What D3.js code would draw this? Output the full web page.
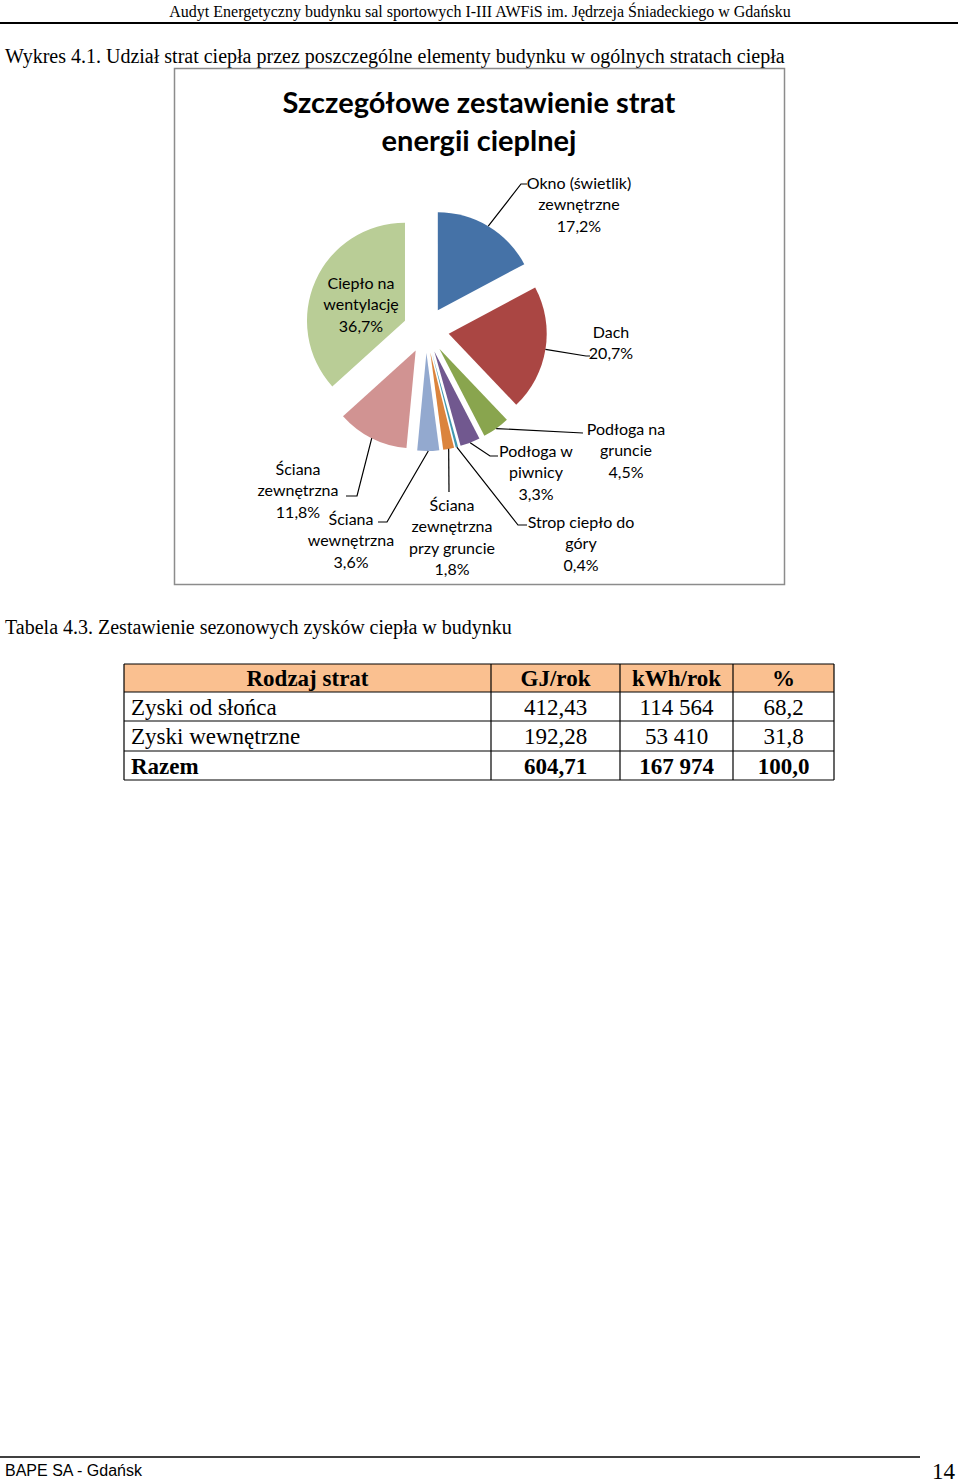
<!DOCTYPE html>
<html><head><meta charset="utf-8">
<script src="https://cdn.jsdelivr.net/npm/d3@7"></script>
<style>
body{margin:0;background:#fff;}
svg{display:block;}
</style></head>
<body>
<script>
// ---- data ----
const categories = ["Okno (świetlik) zewnętrzne","Dach","Podłoga na gruncie","Podłoga w piwnicy","Strop ciepło do góry","Ściana zewnętrzna przy gruncie","Ściana wewnętrzna","Ściana zewnętrzna","Ciepło na wentylację"];
const values = [17.2, 20.7, 4.5, 3.3, 0.4, 1.8, 3.6, 11.8, 36.7];
const labelLines = [
  ["Okno (świetlik)","zewnętrzne","17,2%"],
  ["Dach","20,7%"],
  ["Podłoga na","gruncie","4,5%"],
  ["Podłoga w","piwnicy","3,3%"],
  ["Strop ciepło do","góry","0,4%"],
  ["Ściana","zewnętrzna","przy gruncie","1,8%"],
  ["Ściana","wewnętrzna","3,6%"],
  ["Ściana","zewnętrzna","11,8%"],
  ["Ciepło na","wentylację","36,7%"]
];
const colors = ["#4572A7","#AA4643","#89A54E","#71588F","#4198AF","#DB843D","#93A9CF","#D19392","#B9CD96"];

const chartTitle = ["Szczegółowe zestawienie strat","energii cieplnej"];
const tableHeader = ["Rodzaj strat","GJ/rok","kWh/rok","%"];
const tableRowNames = ["Zyski od słońca","Zyski wewnętrzne","Razem"];
const tableGJ = ["412,43","192,28","604,71"];
const tableKWh = ["114 564","53 410","167 974"];
const tablePct = ["68,2","31,8","100,0"];

// ---- layout ----
const W = 960, H = 1483;
const svg = d3.select("body").append("svg").attr("width", W).attr("height", H);
svg.append("rect").attr("width", W).attr("height", H).attr("fill", "#fff");

const serif = "'Liberation Serif','Times New Roman',serif";
const sans = "Lato,'Open Sans',sans-serif";

// page header
svg.append("text").attr("x", 480).attr("y", 17).attr("text-anchor", "middle")
  .attr("font-family", serif).attr("font-size", 16)
  .text("Audyt Energetyczny budynku sal sportowych I-III AWFiS im. Jędrzeja Śniadeckiego w Gdańsku");
svg.append("line").attr("x1", 0).attr("x2", 958).attr("y1", 23).attr("y2", 23)
  .attr("stroke", "#000").attr("stroke-width", 2);

svg.append("text").attr("x", 5).attr("y", 63)
  .attr("font-family", serif).attr("font-size", 20)
  .text("Wykres 4.1. Udział strat ciepła przez poszczególne elementy budynku w ogólnych stratach ciepła");

// chart box
svg.append("rect").attr("x", 174.5).attr("y", 68.5).attr("width", 610).attr("height", 516)
  .attr("fill", "#fff").attr("stroke", "#8c8c8c").attr("stroke-width", 1.5);

const titleG = svg.append("g");
chartTitle.forEach((t, i) => {
  titleG.append("text").attr("x", 479).attr("y", 113 + i * 38).attr("text-anchor", "middle")
    .attr("font-family", sans).attr("font-weight", "bold").attr("font-size", 29)
    .attr("fill", "#000").text(t);
});

// pie
const cx = 426, cy = 330, R = 98, explode = 23;
const pie = d3.pie().sort(null).value(d => d)(values);
const arc = d3.arc().innerRadius(0).outerRadius(R);
const g = svg.append("g").attr("transform", `translate(${cx},${cy})`);
const dirOf = d => { const a = (d.startAngle + d.endAngle) / 2; return [Math.sin(a), -Math.cos(a)]; };
g.selectAll("path.slice").data(pie).join("path").attr("class", "slice")
  .attr("d", arc)
  .attr("transform", d => { const [dx, dy] = dirOf(d); return `translate(${dx * explode},${dy * explode})`; })
  .attr("fill", (d, i) => colors[i]);

// label layout: text center x, first baseline y, leader elbow & end (page coords)
const labelLayout = [
  {x: 579, y: 189, pts: [[521, 184], [527, 184]]},
  {x: 611, y: 338, pts: [[586, 356], [590, 356]]},
  {x: 626, y: 435, pts: [[583, 433]]},
  {x: 536, y: 457, pts: [[490, 456], [498, 456]]},
  {x: 581, y: 528, pts: [[518, 525], [527, 525]]},
  {x: 452, y: 511, pts: [[449, 492]]},
  {x: 351, y: 525, pts: [[387, 522], [378, 522]]},
  {x: 298, y: 475, pts: [[357, 496], [346, 496]]},
  {x: 361, y: 289, pts: null}
];
const lineH = 21.3;
pie.forEach((d, i) => {
  const L = labelLayout[i];
  if (L.pts) {
    const [dx, dy] = dirOf(d);
    const start = [cx + dx * (explode + R), cy + dy * (explode + R)];
    svg.append("path").attr("d", d3.line()([start, ...L.pts]))
      .attr("fill", "none").attr("stroke", "#000").attr("stroke-width", 1.2);
  }
  labelLines[i].forEach((t, j) => {
    svg.append("text").attr("x", L.x).attr("y", L.y + j * lineH).attr("text-anchor", "middle")
      .attr("font-family", sans).attr("font-size", 16).attr("fill", "#000").text(t);
  });
});

// caption
svg.append("text").attr("x", 5).attr("y", 634)
  .attr("font-family", serif).attr("font-size", 20)
  .text("Tabela 4.3. Zestawienie sezonowych zysków ciepła w budynku");

// table
const colEdges = [124, 491, 620, 733, 834];
const rowEdges = [664, 692, 721, 751, 780];
const tg = svg.append("g");
tg.append("rect").attr("x", colEdges[0]).attr("y", rowEdges[0])
  .attr("width", colEdges[4] - colEdges[0]).attr("height", rowEdges[1] - rowEdges[0]).attr("fill", "#FAC090");
const rows = [tableHeader].concat(tableRowNames.map((n, i) => [n, tableGJ[i], tableKWh[i], tablePct[i]]));
rows.forEach((r, ri) => {
  const bold = ri === 0 || ri === rows.length - 1;
  r.forEach((c, ci) => {
    const yMid = (rowEdges[ri] + rowEdges[ri + 1]) / 2;
    const left = ci === 0 && ri > 0;
    tg.append("text")
      .attr("x", left ? colEdges[0] + 7 : (colEdges[ci] + colEdges[ci + 1]) / 2)
      .attr("y", yMid + 8)
      .attr("text-anchor", left ? "start" : "middle")
      .attr("font-family", serif).attr("font-size", 23)
      .attr("font-weight", bold ? "bold" : "normal").text(c);
  });
});
rowEdges.forEach(y => tg.append("line").attr("x1", colEdges[0]).attr("x2", colEdges[4])
  .attr("y1", y).attr("y2", y).attr("stroke", "#000").attr("stroke-width", 1.2));
colEdges.forEach(x => tg.append("line").attr("x1", x).attr("x2", x)
  .attr("y1", rowEdges[0]).attr("y2", rowEdges[4]).attr("stroke", "#000").attr("stroke-width", 1.2));

// footer
svg.append("line").attr("x1", 0).attr("x2", 920).attr("y1", 1457).attr("y2", 1457)
  .attr("stroke", "#000").attr("stroke-width", 1.5);
svg.append("text").attr("x", 5).attr("y", 1476)
  .attr("font-family", "'Liberation Sans',Arial,sans-serif").attr("font-size", 16).text("BAPE SA - Gdańsk");
svg.append("text").attr("x", 955).attr("y", 1479).attr("text-anchor", "end")
  .attr("font-family", serif).attr("font-size", 23).text("14");
</script>
</body></html>
